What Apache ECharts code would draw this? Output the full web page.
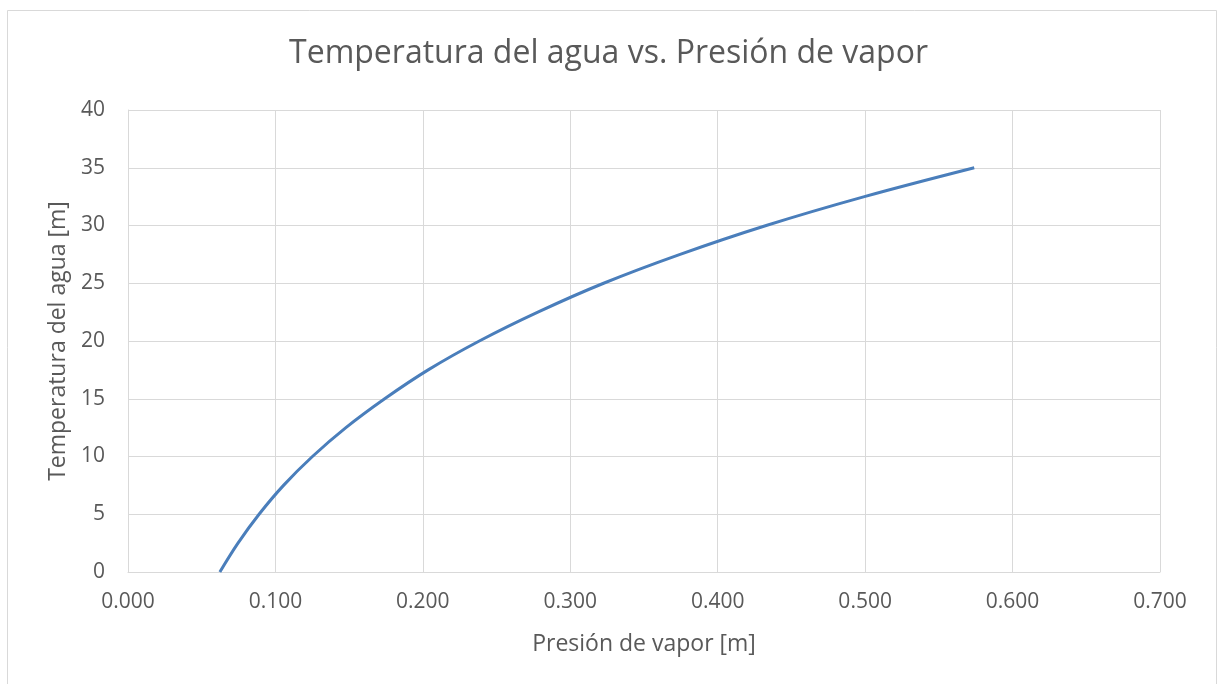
<!DOCTYPE html>
<html>
<head>
<meta charset="utf-8">
<script src="https://cdn.jsdelivr.net/npm/echarts@6/dist/echarts.min.js"></script>
<style>
html,body{margin:0;padding:0;background:#fff;}
#main{width:1217px;height:684px;}
</style>
</head>
<body>
<div id="main"></div>
<script>
var titleText = 'Temperatura del agua vs. Presión de vapor';
var xName = 'Presión de vapor [m]';
var yName = 'Temperatura del agua [m]';
var temperature = [0, 2.5, 5, 7.5, 10, 12.5, 15, 17.5, 20, 22.5, 25, 27.5, 30, 32.5, 35];
var vaporPressure = [0.0623, 0.0746, 0.0889, 0.1055, 0.1251, 0.1478, 0.1741, 0.2036, 0.2383, 0.2780, 0.3226, 0.3745, 0.4329, 0.4995, 0.5740];

var data = vaporPressure.map(function (p, i) { return [p, temperature[i]]; });
var txt = '#595959';
var font = '"Open Sans", "Liberation Sans", sans-serif';

var chart = echarts.init(document.getElementById('main'), null, {renderer: 'canvas'});
chart.setOption({
  animation: false,
  backgroundColor: '#fff',
  graphic: [{
    type: 'rect',
    shape: {x: 7.5, y: 10.5, width: 1209, height: 700},
    style: {fill: 'none', stroke: '#d9d9d9', lineWidth: 1},
    silent: true
  }],
  title: {
    text: titleText,
    left: 'center',
    top: 33,
    textStyle: {color: txt, fontSize: 32, fontWeight: 'normal', fontFamily: font}
  },
  grid: {left: 128, right: 57, top: 110, bottom: 112, containLabel: false},
  xAxis: {
    type: 'value',
    min: 0, max: 0.7, interval: 0.1,
    name: xName,
    nameLocation: 'middle',
    nameGap: 61,
    nameTextStyle: {color: txt, fontSize: 23, fontFamily: font},
    axisLine: {show: true, lineStyle: {color: '#d9d9d9', width: 1}},
    axisTick: {show: false},
    axisLabel: {color: txt, fontSize: 21, fontFamily: font, margin: 20,
      formatter: function (v) { return v.toFixed(3); }},
    splitLine: {show: true, lineStyle: {color: '#d9d9d9', width: 1}}
  },
  yAxis: {
    type: 'value',
    min: 0, max: 40, interval: 5,
    name: yName,
    nameLocation: 'middle',
    nameGap: 57,
    nameTextStyle: {color: txt, fontSize: 23, fontFamily: font},
    axisLine: {show: true, lineStyle: {color: '#d9d9d9', width: 1}},
    axisTick: {show: false},
    axisLabel: {color: txt, fontSize: 21, fontFamily: font, margin: 23},
    splitLine: {show: true, lineStyle: {color: '#d9d9d9', width: 1}}
  },
  series: [{
    type: 'line',
    data: data,
    smooth: 0.35,
    showSymbol: false,
    lineStyle: {color: '#4a7ebb', width: 3}
  }]
});
</script>
</body>
</html>
